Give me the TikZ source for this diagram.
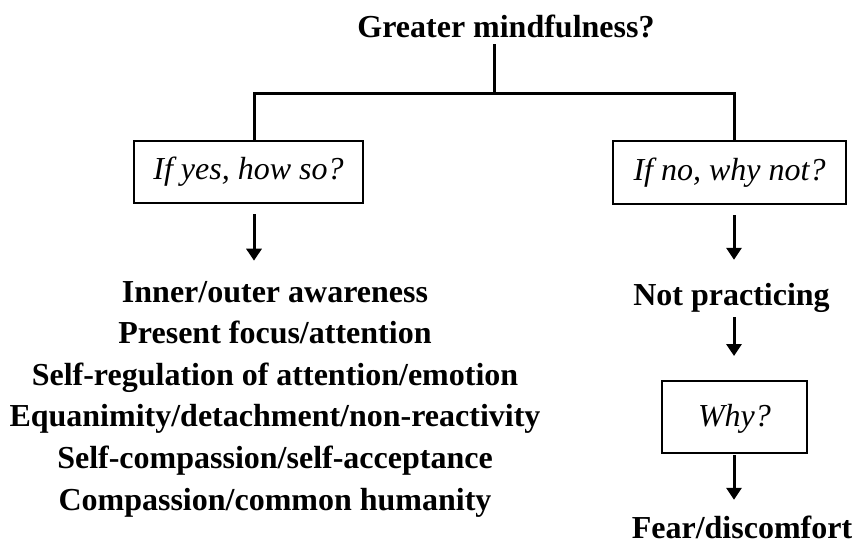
\documentclass[tikz,border=0pt]{standalone}
\usepackage{fontspec}
\setmainfont{Liberation Serif}
\usetikzlibrary{arrows.meta}
\begin{document}
\begin{tikzpicture}[x=1pt,y=-1pt,
  lbl/.style={font=\fontsize{32}{41.6}\selectfont\bfseries, inner sep=0pt,
              text height=22pt, text depth=7pt},
  qbox/.style={draw, line width=2pt, font=\fontsize{32}{41.6}\selectfont\itshape,
               inner sep=0pt, text height=22pt, text depth=7pt},
  link/.style={line width=3pt},
  arr/.style={line width=3pt, -{Triangle[width=15pt,length=12pt]}}]
\useasboundingbox (0,0) rectangle (857,544);

% question at the root
\node[lbl, anchor=base] (title) at (506,37) {Greater mindfulness?};

% branch points of the fork
\coordinate (fork) at (494,93);
\coordinate (yl) at (254,93);
\coordinate (nl) at (734,93);

% the two follow-up questions
\node[qbox, minimum width=229pt, minimum height=62pt] (ybox) at (248.5,172) {If yes, how so?};
\node[qbox, minimum width=233pt, minimum height=63pt] (nbox) at (729.5,172.5) {If no, why not?};

% answers (base anchor sits on the last line)
\node[lbl, anchor=base, text height=, text depth=, align=center] (list) at (275,510)
  {Inner/outer awareness\\Present focus/attention\\Self-regulation of attention/emotion\\
   Equanimity/detachment/non-reactivity\\Self-compassion/self-acceptance\\Compassion/common humanity};
\node[lbl, anchor=base] (notp) at (731.5,305) {Not practicing};
\node[qbox, minimum width=145pt, minimum height=72pt, text depth=4pt] (why) at (734.5,417) {Why?};
\node[lbl, anchor=base, text depth=0pt] (fear) at (742,538) {Fear/discomfort};

% fork lines
\draw[link] (title.south -| fork) -- (fork);
\draw[link] (yl |- ybox.north) -- (yl) -- (nl) -- (nl |- nbox.north);

% arrows
\draw[arr, shorten <=10pt, shorten >=20pt] (ybox.south -| yl) -- (list.north -| yl);
\draw[arr, shorten <=10pt, shorten >=23pt] (nbox.south -| nl) -- (notp.north -| nl);
\draw[arr, shorten <=5pt, shorten >=24pt] (notp.south -| nl) -- (why.north -| nl);
\draw[arr, shorten <=1pt, shorten >=16pt] (why.south -| nl) -- (fear.north -| nl);
\end{tikzpicture}
\end{document}
